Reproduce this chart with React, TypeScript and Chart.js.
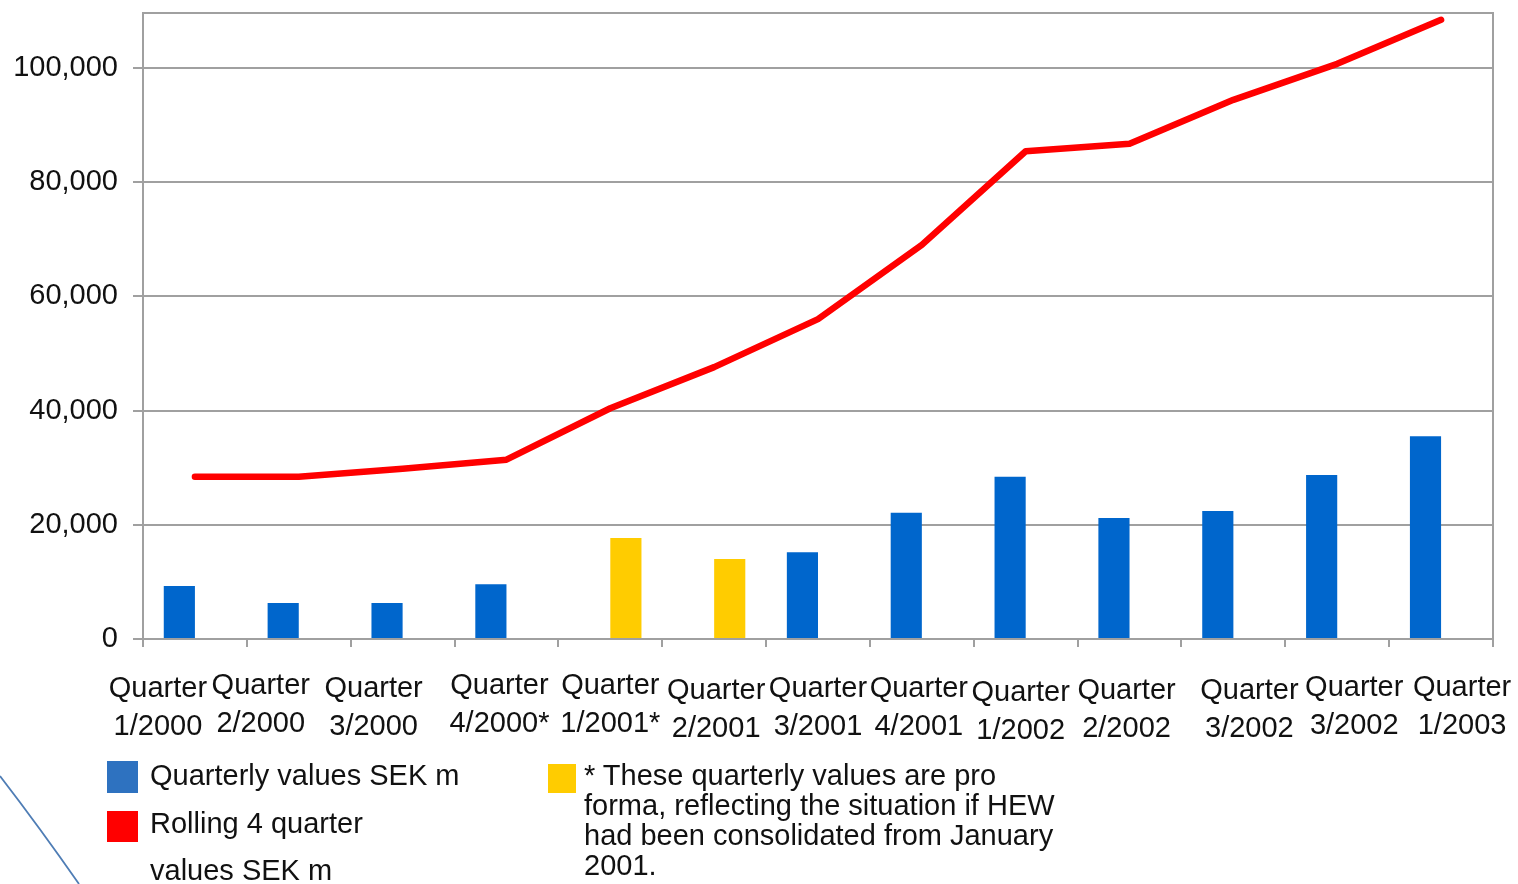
import React, { useEffect, useRef } from "react";
import { Chart, registerables } from "chart.js";

Chart.register(...registerables);

// Quarter categories (the label is split into two lines when drawn)
const categories = [
  "Quarter 1/2000",
  "Quarter 2/2000",
  "Quarter 3/2000",
  "Quarter 4/2000*",
  "Quarter 1/2001*",
  "Quarter 2/2001",
  "Quarter 3/2001",
  "Quarter 4/2001",
  "Quarter 1/2002",
  "Quarter 2/2002",
  "Quarter 3/2002",
  "Quarter 3/2002",
  "Quarter 1/2003",
];

// Quarterly values, SEK m
const quarterlyValues = [9300, 6300, 6300, 9600, null, null, 15200, 22100, 28400, 21200, 22400, 28700, 35500];

// Pro forma quarterly values, SEK m
const proFormaValues = [null, null, null, null, 17700, 14000, null, null, null, null, null, null, null];

// Rolling 4 quarter values, SEK m
const rollingValues = [28400, 28400, 29800, 31400, 40400, 47600, 56000, 69000, 85400, 86700, 94400, 100700, 108400];

// Value axis ticks
const yTicks = [0, 20000, 40000, 60000, 80000, 100000];

const FONT = '"Liberation Sans", Arial, sans-serif';
const AXIS_GREY = "#a0a0a0";

// Per-label nudges for the category text
const labelShiftX = [-37, -38, -29, -7, 0, 2, 0, -3, -5, -3, 16, 17, 21];
const labelShiftY = [3, 0, 3, 0, 0, 5, 3, 3, 7, 5, 5, 2, 2];

const frameAndLabels = {
  id: "frameAndLabels",
  afterDraw(chart: any) {
    const { ctx, chartArea } = chart;
    const xs = chart.scales.x;
    ctx.save();
    // top and right edges of the plot frame
    ctx.strokeStyle = AXIS_GREY;
    ctx.lineWidth = 2;
    ctx.beginPath();
    ctx.moveTo(chartArea.left, chartArea.top);
    ctx.lineTo(chartArea.right, chartArea.top);
    ctx.lineTo(chartArea.right, chartArea.bottom);
    ctx.stroke();
    // two-line category labels
    ctx.fillStyle = "#111";
    ctx.font = `29px ${FONT}`;
    ctx.textAlign = "center";
    ctx.textBaseline = "middle";
    categories.forEach((c, i) => {
      const idx = c.indexOf(" ");
      const l1 = c.slice(0, idx);
      const l2 = c.slice(idx + 1);
      const x = xs.getPixelForValue(i) + labelShiftX[i];
      const y = chartArea.bottom + 47 + labelShiftY[i];
      ctx.fillText(l1, x, y);
      ctx.fillText(l2, x, y + 38);
    });
    ctx.restore();
  },
};

export default function App() {
  const ref = useRef<HTMLCanvasElement | null>(null);

  useEffect(() => {
    if (!ref.current) return;
    const chart = new Chart(ref.current, {
      type: "bar",
      data: {
        labels: categories,
        datasets: [
          {
            type: "line",
            label: "Rolling 4 quarter values SEK m",
            data: rollingValues,
            borderColor: "#ff0000",
            backgroundColor: "#ff0000",
            borderWidth: 6.5,
            pointRadius: 0,
            tension: 0,
            borderCapStyle: "round",
            borderJoinStyle: "round",
            order: 0,
          } as any,
          {
            label: "Quarterly values SEK m",
            data: quarterlyValues,
            backgroundColor: "#0066cc",
            categoryPercentage: 0.6,
            barPercentage: 1,
            order: 1,
          },
          {
            label: "* These quarterly values are pro forma",
            data: proFormaValues,
            backgroundColor: "#ffcc00",
            categoryPercentage: 0.6,
            barPercentage: 1,
            order: 1,
          },
        ],
      },
      options: {
        animation: false,
        responsive: false,
        maintainAspectRatio: false,
        layout: { padding: { top: 13, right: 25, left: 0, bottom: 0 } },
        plugins: {
          legend: { display: false },
          tooltip: { enabled: false },
        },
        scales: {
          x: {
            offset: true,
            grid: {
              display: true,
              drawOnChartArea: false,
              offset: true,
              color: AXIS_GREY,
              lineWidth: 2,
              tickLength: 8,
            },
            border: { color: AXIS_GREY, width: 2 },
            ticks: { display: false },
            afterFit: (scale: any) => {
              scale.height = 245;
              scale.paddingLeft = 0;
              scale.paddingRight = 0;
            },
          },
          y: {
            min: 0,
            max: 109600,
            afterBuildTicks: (axis: any) => {
              axis.ticks = yTicks.map((v) => ({ value: v }));
            },
            grid: { color: AXIS_GREY, lineWidth: 2, tickLength: 10 },
            border: { color: AXIS_GREY, width: 2 },
            ticks: {
              color: "#111",
              padding: 15,
              font: { family: FONT, size: 29 },
              callback: (v: any) => Number(v).toLocaleString("en-US"),
            },
            afterFit: (scale: any) => {
              scale.width = 143;
              scale.paddingTop = 0;
              scale.paddingBottom = 0;
            },
          },
        },
      },
      plugins: [frameAndLabels],
    });
    return () => chart.destroy();
  }, []);

  const text: React.CSSProperties = {
    position: "absolute",
    fontFamily: FONT,
    fontSize: 29,
    lineHeight: "30px",
    color: "#111",
    whiteSpace: "nowrap",
  };
  const swatch = (left: number, top: number, w: number, h: number, bg: string): React.CSSProperties => ({
    position: "absolute",
    left,
    top,
    width: w,
    height: h,
    background: bg,
  });

  return (
    <div
      style={{
        position: "absolute",
        left: 0,
        top: 0,
        width: 1518,
        height: 884,
        overflow: "hidden",
        background: "#fff",
      }}
    >
      <canvas ref={ref} width={1518} height={884} style={{ display: "block" }} />
      <svg width={1518} height={884} style={{ position: "absolute", left: 0, top: 0, pointerEvents: "none" }}>
        <path d="M 0 776 Q 40 828 79 884" stroke="#4f7db5" strokeWidth={1.8} fill="none" />
      </svg>
      <div style={swatch(107, 761, 31, 32, "#2e72c0")} />
      <div style={{ ...text, left: 150, top: 760 }}>Quarterly values SEK m</div>
      <div style={swatch(107, 811, 31, 31, "#ff0000")} />
      <div style={{ ...text, left: 150, top: 808 }}>Rolling 4 quarter</div>
      <div style={{ ...text, left: 150, top: 855 }}>values SEK m</div>
      <div style={swatch(548, 764, 28, 29, "#ffcc00")} />
      <div style={{ ...text, left: 584, top: 760 }}>
        * These quarterly values are pro
        <br />
        forma, reflecting the situation if HEW
        <br />
        had been consolidated from January
        <br />
        2001.
      </div>
    </div>
  );
}
